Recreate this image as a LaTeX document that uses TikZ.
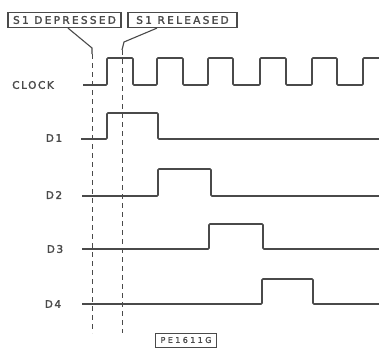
\documentclass[tikz,border=0pt]{standalone}
\usepackage{fontspec}
\newfontfamily\lblfont[LetterSpace=15,FakeBold=2]{DejaVu Sans}
\newfontfamily\boxfont[LetterSpace=22,FakeBold=2]{DejaVu Sans}
\newfontfamily\tagfont[LetterSpace=30,FakeBold=1.5]{DejaVu Sans}
\definecolor{ink}{HTML}{4A4A4A}
\begin{document}
\begin{tikzpicture}[x=1pt,y=-1pt,
  wave/.style={draw=ink,line width=1.7pt,rounded corners=1pt},
  guide/.style={draw=ink,line width=0.9pt,dash pattern=on 5pt off 4pt},
  leader/.style={draw=ink,line width=1.1pt},
  callout/.style={draw=ink,line width=1.2pt,inner sep=1.5pt,font=\boxfont\fontsize{10.5}{12}\selectfont,text=ink,minimum height=15pt},
  sig/.style={font=\lblfont\fontsize{10.5}{12}\selectfont,text=ink,anchor=center},
  tagbox/.style={draw=ink,line width=0.9pt,inner sep=1.5pt,font=\tagfont\fontsize{8}{9}\selectfont,text=ink,minimum height=14pt,minimum width=61pt}]
\useasboundingbox (0,0) rectangle (379,348);
\fill[white] (0,0) rectangle (379,348);

% callout boxes
\node[callout,minimum width=113pt] (dep) at (64.5,20) {S1 DEPRESSED};
\node[callout,minimum width=109pt] (rel) at (182.5,20) {S1 RELEASED};
\node[tagbox] (tag) at (186,340) {PE1611G};

% signal labels
\node[sig] (lclk) at (33,85) {CLOCK};
\node[sig] (ld1) at (54,138) {D1};
\node[sig] (ld2) at (54,195) {D2};
\node[sig] (ld3) at (55,249) {D3};
\node[sig] (ld4) at (53,304) {D4};

% guide coordinates
\coordinate (dk) at (92,48);
\coordinate (dend) at (93,333);
\coordinate (rk) at (124,42);
\coordinate (rk2) at (122,50);
\coordinate (rend) at (122,333);

% leaders and dashed guides
\draw[leader] (dep.south -| 68,0) -- (dk) -- ++(0,6);
\draw[guide] (92,54) -- (92,333);
\draw[leader] (rel.south -| 157,0) -- (rk) -- (rk2);
\draw[guide] (rk2) -- (rend);

% waveform start points
\coordinate (sclk) at (83,85);
\coordinate (s1) at (81,139);
\coordinate (s2) at (82,196);
\coordinate (s3) at (82,249);
\coordinate (s4) at (82,304);

% clock
\draw[wave] (sclk) -- (107,85) -- (107,58) -- (133,58) -- (133,85) -- (157,85) -- (157,58)
  -- (183,58) -- (183,85) -- (208,85) -- (208,58) -- (233,58) -- (233,85) -- (260,85)
  -- (260,58) -- (286,58) -- (286,85) -- (312,85) -- (312,58) -- (337,58) -- (337,85)
  -- (363,85) -- (363,58) -- (379,58);
% D1..D4
\draw[wave] (s1) -- (107,139) -- (107,113) -- (158,113) -- (158,139) -- (379,139);
\draw[wave] (s2) -- (158,196) -- (158,169) -- (211,169) -- (211,196) -- (379,196);
\draw[wave] (s3) -- (209,249) -- (209,224) -- (263,224) -- (263,249) -- (379,249);
\draw[wave] (s4) -- (262,304) -- (262,279) -- (313,279) -- (313,304) -- (379,304);
\end{tikzpicture}
\end{document}
